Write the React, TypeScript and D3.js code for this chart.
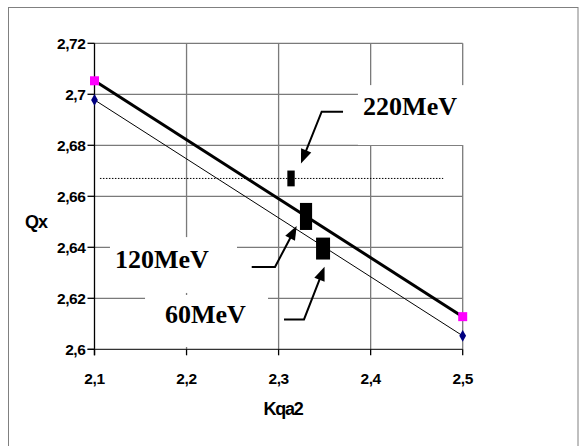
import React from "react";
import * as d3 from "d3";

// ---- data ----
const xTicks = [2.1, 2.2, 2.3, 2.4, 2.5];
const yTicks = [2.6, 2.62, 2.64, 2.66, 2.68, 2.7, 2.72];
const thickX = [2.1, 2.5];
const thickY = [2.7053, 2.6128];
const thinX = [2.1, 2.5];
const thinY = [2.6978, 2.6053];
const dottedX = [2.1059, 2.4788];
const dottedY = [2.667, 2.667];
// measurement boxes: centre and half-sizes
const boxX = [2.3135, 2.3298, 2.3483];
const boxY = [2.667, 2.6521, 2.6395];
const boxDX = [0.004, 0.0066, 0.0076];
const boxDY = [0.0031, 0.0053, 0.0043];
const labels = ["220MeV", "120MeV", "60MeV"];
// annotation anchors in data coordinates
const labelX = [2.3918, 2.1223, 2.1766];
const labelY = [2.6919, 2.6319, 2.6103];
const maskX0 = [2.3862, 2.1168, 2.1549];
const maskX1 = [2.5079, 2.2548, 2.2885];
const maskY0 = [2.7036, 2.644, 2.6213];
const maskY1 = [2.6801, 2.6221, 2.6009];
const arrowX = [
  [2.37, 2.3468, 2.3243],
  [2.2708, 2.2961, 2.3196],
  [2.3059, 2.3276, 2.3499],
];
const arrowY = [
  [2.6932, 2.6932, 2.6729],
  [2.6323, 2.6323, 2.6484],
  [2.6117, 2.6117, 2.6324],
];

const W = 579;
const H = 446;
const x = d3.scaleLinear().domain([2.1, 2.5]).range([94.5, 462.7]);
const y = d3.scaleLinear().domain([2.6, 2.72]).range([349.3, 43.3]);
const fmt = (v: number) => d3.format("~g")(+v.toFixed(2)).replace(".", ",");
const sans = "Arial, 'Liberation Sans', sans-serif";
const serif = "'Times New Roman', 'Liberation Serif', serif";

export default function App() {
  const line = d3.line<[number, number]>().x((d) => x(d[0])).y((d) => y(d[1]));
  const grid = "#7a7a7a";
  return (
    <svg width={W} height={H} style={{ position: "absolute", left: 0, top: 0, background: "#fff" }}>
      <rect x={8.5} y={7.5} width={569.5} height={460} fill="#fff" stroke="#808080" strokeWidth={1} />
      {/* grid */}
      {xTicks.slice(1).map((t) => (
        <line key={"gx" + t} x1={x(t)} x2={x(t)} y1={y(2.72)} y2={y(2.6)} stroke={grid} strokeWidth={1.3} />
      ))}
      {yTicks.slice(1).map((t) => (
        <line key={"gy" + t} x1={x(2.1)} x2={x(2.5)} y1={y(t)} y2={y(t)} stroke={grid} strokeWidth={1.3} />
      ))}
      {/* masks behind labels */}
      {labels.map((l, i) => (
        <rect key={"m" + l} x={x(maskX0[i])} y={y(maskY0[i])} width={x(maskX1[i]) - x(maskX0[i])}
          height={y(maskY1[i]) - y(maskY0[i])} fill="#fff" />
      ))}
      {/* axes */}
      <line x1={x(2.1)} x2={x(2.1)} y1={y(2.72)} y2={y(2.6) + 6} stroke="#000" strokeWidth={1.3} />
      <line x1={x(2.1) - 7} x2={x(2.5)} y1={y(2.6)} y2={y(2.6)} stroke="#333" strokeWidth={1.3} />
      {yTicks.map((t) => (
        <g key={"yt" + t}>
          <line x1={x(2.1) - 7} x2={x(2.1)} y1={y(t)} y2={y(t)} stroke="#000" strokeWidth={1.3} />
          <text x={85.5} y={y(t) + 5.5} textAnchor="end" fontFamily={sans} fontWeight="bold" fontSize={15.5}
            letterSpacing={-0.4}>{fmt(t)}</text>
        </g>
      ))}
      {xTicks.map((t) => (
        <g key={"xt" + t}>
          <line x1={x(t)} x2={x(t)} y1={y(2.6)} y2={y(2.6) + 6} stroke="#000" strokeWidth={1.3} />
          <text x={x(t)} y={383.5} textAnchor="middle" fontFamily={sans} fontWeight="bold" fontSize={15.5}
            letterSpacing={-0.4}>{fmt(t)}</text>
        </g>
      ))}
      <text x={36} y={228} textAnchor="middle" fontFamily={sans} fontWeight="bold" fontSize={18} letterSpacing={-1}>Qx</text>
      <text x={283} y={415} textAnchor="middle" fontFamily={sans} fontWeight="bold" fontSize={18} letterSpacing={-1.2}>Kqa2</text>
      {/* dotted line */}
      <path d={line(dottedX.map((v, i) => [v, dottedY[i]]) as [number, number][]) || ""} stroke="#000"
        strokeWidth={1} strokeDasharray="1.5 1.5" fill="none" />
      {/* series */}
      <path d={line(thinX.map((v, i) => [v, thinY[i]]) as [number, number][]) || ""} stroke="#000" strokeWidth={1} fill="none" />
      <path d={line(thickX.map((v, i) => [v, thickY[i]]) as [number, number][]) || ""} stroke="#000" strokeWidth={3} fill="none" />
      {thinX.map((v, i) => (
        <path key={"d" + i} d={d3.symbol(d3.symbolDiamond, 40)() || ""} transform={`translate(${x(v)},${y(thinY[i])})`}
          fill="#000080" />
      ))}
      {thickX.map((v, i) => (
        <rect key={"s" + i} x={x(v) - 4.5} y={y(thickY[i]) - 4.5} width={9} height={9} fill="#ff00ff" />
      ))}
      {/* measurement boxes */}
      {boxX.map((v, i) => (
        <rect key={"b" + i} x={x(v - boxDX[i])} y={y(boxY[i] + boxDY[i])} width={x(v + boxDX[i]) - x(v - boxDX[i])}
          height={y(boxY[i] - boxDY[i]) - y(boxY[i] + boxDY[i])} fill="#000" />
      ))}
      {/* annotations */}
      {labels.map((l, i) => {
        const pts = arrowX[i].map((v, j) => [x(v), y(arrowY[i][j])]);
        const [ex, ey] = pts[1];
        const [tx, ty] = pts[2];
        const ang = Math.atan2(ty - ey, tx - ex);
        const L = 14, hw = 5.5;
        const bx = tx - L * Math.cos(ang), by = ty - L * Math.sin(ang);
        const px = -Math.sin(ang) * hw, py = Math.cos(ang) * hw;
        const sx = tx - (L - 2) * Math.cos(ang), sy = ty - (L - 2) * Math.sin(ang);
        return (
          <g key={"a" + l}>
            <polyline points={`${pts[0][0]},${pts[0][1]} ${ex},${ey} ${sx},${sy}`} fill="none" stroke="#000" strokeWidth={2} />
            <polygon points={`${tx},${ty} ${bx + px},${by + py} ${bx - px},${by - py}`} fill="#000" />
            <text x={x(labelX[i])} y={y(labelY[i])} fontFamily={serif} fontWeight="bold" fontSize={26}>{l}</text>
          </g>
        );
      })}
    </svg>
  );
}
